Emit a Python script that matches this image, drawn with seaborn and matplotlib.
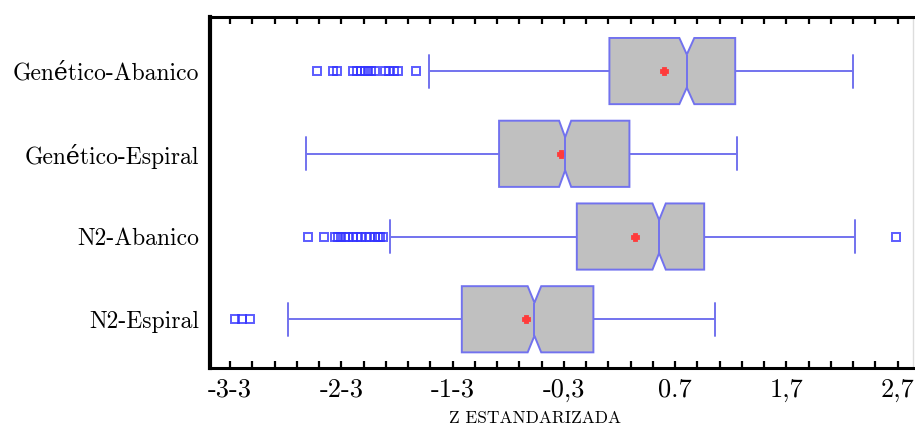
import numpy as np
import pandas as pd
import matplotlib
matplotlib.use("Agg")
import matplotlib.pyplot as plt
import seaborn as sns
from matplotlib.ticker import FixedLocator, FixedFormatter

# ---------------- data ----------------
groups = ["Genético-Abanico", "Genético-Espiral", "N2-Abanico", "N2-Espiral"]
q1 = [0.109, -0.883, -0.184, -1.218]
median = [0.805, -0.289, 0.556, -0.565]
q3 = [1.240, 0.289, 0.961, -0.035]
whisker_low = [-1.512, -2.620, -1.863, -2.778]
whisker_high = [2.303, 1.260, 2.319, 1.060]
means = [0.601, -0.325, 0.340, -0.643]
sample_size = [700, 1150, 900, 930]
outliers_ga = [-2.52, -2.38, -2.34, -2.20, -2.16, -2.12, -2.09, -2.06, -2.03,
               -2.00, -1.91, -1.87, -1.83, -1.79, -1.63]
outliers_ge = []
outliers_n2a = [-2.60, -2.46, -2.36, -2.33, -2.30, -2.27, -2.24, -2.20, -2.16,
                -2.12, -2.08, -2.04, -2.00, -1.97, -1.95, -1.93, 2.69]
outliers_n2e = [-3.26, -3.19, -3.12]
outliers = [outliers_ga, outliers_ge, outliers_n2a, outliers_n2e]
tick_values = [-3.3, -2.3, -1.3, -0.3, 0.7, 1.7, 2.7]
tick_labels = ["-3-3", "-2-3", "-1-3", "-0,3", "0.7", "1,7", "2,7"]
x_label = "Z ESTANDARIZADA"

# ------------- long table whose box statistics equal the read values -------------
records = []
for i, g in enumerate(groups):
    lo = [v for v in outliers[i] if v < q1[i]]
    hi = [v for v in outliers[i] if v > q3[i]]
    n = sample_size[i]
    a = int(0.375 * n) - len(lo) - 1
    b = int(0.25 * n)
    c = n - 2 - len(lo) - len(hi) - a - b
    vals = (lo + [whisker_low[i]] + [q1[i]] * a + [median[i]] * b
            + [q3[i]] * c + [whisker_high[i]] + hi)
    records += [(g, v) for v in vals]
df = pd.DataFrame(records, columns=["grupo", "z"])
df_means = pd.DataFrame({"grupo": groups, "z": means})

# ---------------- style ----------------
sns.set_theme(style="white")
plt.rcParams["font.family"] = ["cmr10", "DejaVu Serif"]
plt.rcParams["mathtext.fontset"] = "cm"
plt.rcParams["axes.formatter.use_mathtext"] = True

fig = plt.figure(figsize=(9.15, 4.30), dpi=100)
ax = fig.add_axes([0.2295, 0.144, 0.7685, 0.816])

line_c = "#7272ee"
sns.boxplot(data=df, x="z", y="grupo", order=groups, orient="h",
            width=0.8, color="#c0c0c0", saturation=1, linecolor=line_c,
            linewidth=1.4, notch=True, whis=1.5, ax=ax,
            flierprops=dict(marker="s", markersize=6, markerfacecolor="none",
                            markeredgecolor=(0.2, 0.2, 1.0, 0.8),
                            markeredgewidth=1.4),
            capprops=dict(color=line_c), whiskerprops=dict(color=line_c),
            medianprops=dict(color=line_c, linewidth=1.4))

sns.pointplot(data=df_means, x="z", y="grupo", order=groups, orient="h",
              color="#ff3b3b", markers="P", linestyles="none", errorbar=None,
              markersize=4, ax=ax)

ax.set_xlim(-3.482, 2.84)
ax.set_ylim(3.59, -0.651)

# axes decoration
ax.xaxis.set_major_locator(FixedLocator(tick_values))
ax.xaxis.set_major_formatter(FixedFormatter(tick_labels))
ax.xaxis.set_minor_locator(FixedLocator(np.round(np.arange(-3.3, 2.85, 0.2), 2)))
ax.tick_params(axis="x", which="both", direction="in", top=True, bottom=True,
               length=5, width=1.6, color="black", labelsize=19, pad=7,
               labelcolor="black")
ax.tick_params(axis="y", length=0, labelsize=17, pad=8, labelcolor="black")
ax.set_xlabel(x_label, fontsize=12.5, color="black")
ax.xaxis.set_label_coords(0.462, -0.122)
ax.set_ylabel("")

for side in ["left", "bottom", "top"]:
    ax.spines[side].set_visible(True)
    ax.spines[side].set_color("black")
ax.spines["left"].set_linewidth(3.0)
ax.spines["bottom"].set_linewidth(2.2)
ax.spines["top"].set_linewidth(2.2)
ax.spines["right"].set_color("#dddddd")
ax.spines["right"].set_linewidth(1.0)

fig.savefig("out.png", dpi=100, facecolor="white")
